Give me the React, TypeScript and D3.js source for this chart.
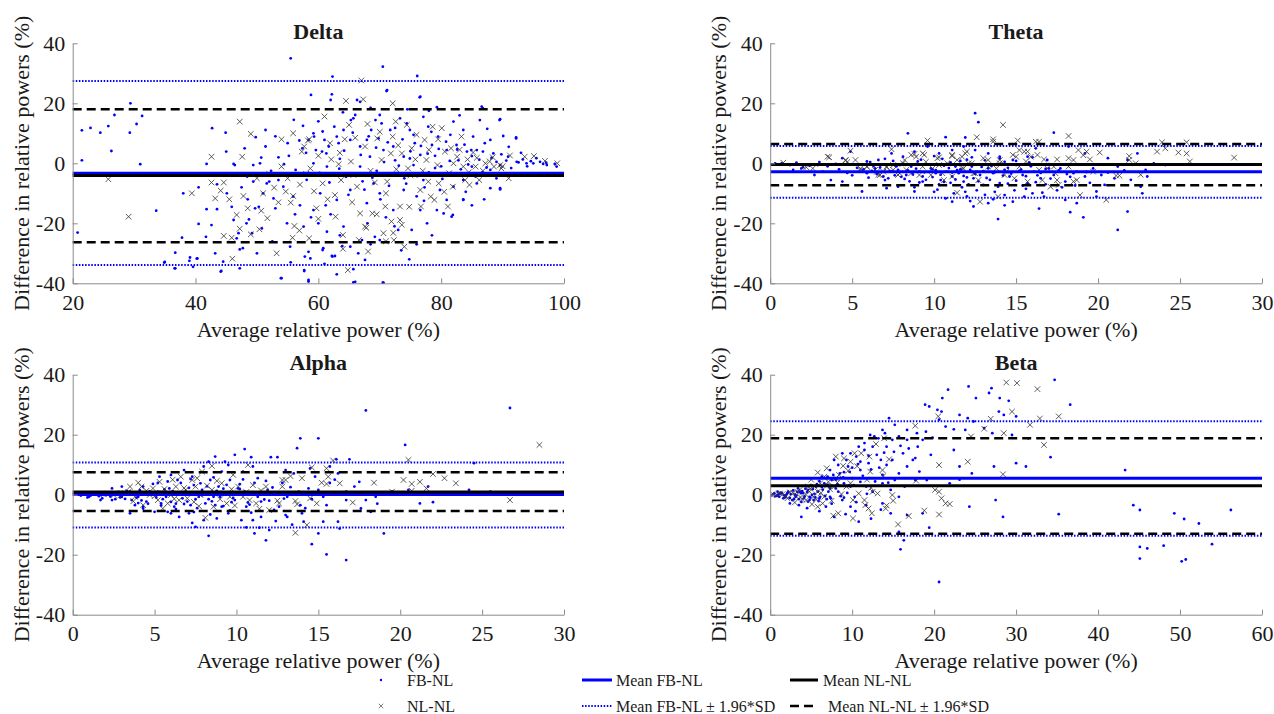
import { useEffect, useRef } from 'react';
import * as d3 from 'd3';

type Pt = [number, number];

// ---- data (x = average, y = difference, both in %) ----
const deltaFB: Pt[] = [
  [55.5, 35], [70.5, 32.2], [62.3, 28.9], [76.1, 29.1], [71.2, 24.4], [76.5, 22], [58.8, 22.8], [29.4, 20],
  [26.8, 16.1], [31.3, 15.8], [30.4, 13.1], [24.5, 10.2], [22.9, 11.8], [21.5, 11], [25.8, 12.4], [29.3, 10.2],
  [26.3, 4.1], [21.5, 1], [31, -0.3], [20.8, -23.1], [33.6, -15.8], [34.9, -33.1], [36.7, -29.8], [36.6, -35],
  [39.1, -31.4], [40.3, -31.7], [44.1, -36.1], [40.5, -20.2], [42.7, 11.7], [44.9, 10.2], [48, 5], [49.8, 8.7],
  [50.7, 1.9], [52, -6.1], [49.4, -6.1], [48.7, -18.7], [47, -23.3], [46.7, -25], [47.7, -28.3], [53.9, -38.3],
  [58.4, -39.4], [70.6, -39.8], [65.7, -39.7], [60.7, -28.9], [58.7, -31.7], [57.7, -35.6], [62.3, -31.1], [63.9, -27.6],
  [67.6, -32.2], [73, -22.2], [74.8, -32], [81.9, -17.2], [83.6, -12], [88, -8.3], [89.6, -8.7], [84.9, 4.4],
  [89.6, 14.7], [92.2, 8.6], [97.1, 0.2], [98.5, -0.2], [93.9, 0], [92.6, 0.3], [95.5, 1.7], [86.6, 18.9],
  [62.2, 23], [66.8, 20.5], [71.1, 24.1], [76.6, 22.2], [79.3, 18.7], [86.8, 18.3], [89.5, 14.4], [64.1, 11.1],
  [65.7, 15], [70.3, 13.3], [73.3, 15], [74.4, 13.3], [77.1, 15.5], [77.9, 12.2], [82, 13.9], [83.6, 11.1],
  [85.2, 8.9], [86.3, 14.4], [88, 7.8], [90.1, 9.1], [92.2, 8.3], [92.3, 0.5], [89, 0.5], [59.2, 10],
  [58.4, 7.8], [60.6, 3.9], [61.4, -1.1], [67.9, 7.8], [68.4, 2.2], [69.8, 8.3], [70.6, 4.4], [71.7, 11.1],
  [72.2, 5.6], [74.9, 11.1], [75.7, 6.7], [76.6, 2.8], [78.5, 6.1], [79.5, 8.9], [80.9, 4.4], [82.5, 6.1],
  [84.2, 3.9], [85.8, 4.4], [87.1, 6.7], [88.5, 3.3], [90.9, 2.2], [95, 0], [97.2, -0.6], [98.8, -1.1],
  [96.1, 0.5], [73.9, 2.2], [66.8, 5.6], [65.2, 7.8], [63.3, 6.7],
  [41.8, -15.3], [43.5, -15.3], [42.6, -20.6], [41.7, -24.5], [37.8, -24.8], [39, -32.5], [40.2, -31.8], [35, -32.9],
  [36.7, -35], [39.6, -34.5], [43.2, -30], [44.5, -32.8], [44.2, -35.9], [47.2, -35], [47.2, -28.7], [45.1, -10],
  [45.9, -14.5], [46.2, -18.9], [48.3, -20], [49.2, -23.3], [50.8, -21.7], [49.7, -15], [51, -10], [52.7, -11.7],
  [53.5, -5.6], [54.9, -20], [55.4, -27.8], [57.6, -21.1], [57.8, -31.1], [58.4, -29.5], [57.7, -35.9], [58.4, -38.9],
  [54, -38.3], [60.8, -28.3], [61.4, -22.8], [62.2, -30.9], [62.7, -30.9], [64.1, -21.1], [65.2, -27.8], [66, -39.5],
  [65.7, -35.3], [67.1, -25.6], [69.2, -24.5], [70, -25.6], [70.5, -39.8], [75.2, -22.2], [76.6, -15.6], [77.7, -20],
  [79.3, -15.6], [80.4, -16.7], [81.7, -17.8], [80.9, -12.2], [79.8, -8.9], [82, -7.8], [83.6, -12.2], [85.8, -6.7],
  [89.6, -8.3], [83.6, -5.6], [73.9, -8.9], [72.2, -15.6], [70, -10], [67.9, -13.3], [65.2, -8.9], [63, -12.2],
  [60.3, -10], [59.2, -15.6], [55.9, -11.1], [54.3, -7.8], [51.6, -6.7], [69, -6.7], [77.1, -5.6], [72.8, -3.3],
  [75.5, -0.6], [66.8, -1.1], [59.2, 0], [50.5, 0], [46.2, -0.2], [41.8, -0.2], [85, -1.1], [88, -2.2], [89.6, -0.6],
  [45, 3.9], [46.4, -0.6], [49.4, -0.6], [51.4, 5.6], [54.4, -0.3], [55, 6.7], [56.9, 7.6], [59.3, 8.9],
  [51.4, 11.1], [60.7, 10.6], [61.3, 3.3], [61.7, 5.6], [63, 8.9], [65.3, 14.4], [66, 16.1], [62, 21.1],
  [66.3, 21.1], [68.6, 11.1], [69.3, 14.4], [70, 16.1], [45.4, -3.9], [48.4, -4.4],
  [64.5, -4.5], [67.2, -6], [71.5, -7.5], [74, -5], [78, -3], [80, -1], [82.8, 1], [86.7, -3],
  [84, -9.5], [76, -11], [71, -18], [68, -20], [62, -17], [60, -20], [57, -14], [53, -15],
  [56.5, -4], [58, 3.5], [63.5, 1.5], [69.5, -2.5], [72.5, 1], [75, 4], [79, 2.5], [81.5, 9.5],
  [83, 16], [78, 17.5], [74.5, 18], [68.5, 18.5], [64, 17], [60, 14], [57.5, 12.5], [53, 9],
  [56, 14.5], [87.5, 11.5], [91, 5.5], [93, 3.5], [94, -1], [90.5, -3.5], [87, -12], [85, -14],
  [78.5, -24], [76, -27], [73.5, -29], [66.5, -30], [61, -33.5], [63, -37], [55.5, -33], [52.5, -26],
  [50, -30], [48.5, -12], [43.5, -7], [40.5, -8], [38, -10],
  [55.2, 2.5], [56.3, -2.2], [57.4, 5], [58.1, -5.5], [59.6, 4.4], [60.2, -3.2], [61, 7.8], [61.8, -6.4],
  [62.6, 12.2], [63.4, -1.8], [64.2, 4.2], [64.9, -10.5], [65.6, 10.2], [66.2, -4], [66.9, 2.8], [67.5, -8.8],
  [68.2, 9], [68.8, -4.8], [69.4, 5.2], [70.1, -12], [70.7, 0.4], [71.3, 7], [71.9, -3.8], [72.5, 11.8],
  [73.1, -0.8], [73.7, 8], [74.3, -6.8], [74.9, 1.6], [75.5, 9.5], [76.1, -4.3], [76.7, 5.8], [77.3, -8],
  [77.8, 3.2], [78.4, 10.5], [79, -1.6], [79.6, 4.8], [80.2, -5.2], [80.8, 7.2], [81.4, 0.8], [82, -3.5],
  [82.6, 4.6], [83.2, -2], [83.8, 6.2], [84.4, -0.4], [85, 2.4], [85.6, -4.4], [86.2, 1.2], [86.8, 3.9],
  [87.4, -1.4], [88.2, 1.8], [89, -5], [89.8, 3], [90.6, 0.9], [91.4, -1.6], [93.3, 1.3], [94.6, 0.7],
  [96.6, -0.2], [53.5, 2], [52.3, -2.5], [58.8, -18], [63.5, -24], [68.5, -27], [72.4, -21], [77.2, -12.5],
  [61.2, -14], [56.2, -17], [50.3, -14.5], [47.5, -8],
];

const deltaNL: Pt[] = [
  [25.8, -5.3], [29.1, -17.8], [47.2, 13.9], [47.6, 2.2], [42.6, 2.2], [39.4, -10], [42.6, -6.4], [44.6, -6.4],
  [43.2, -11.7], [44.1, -9.1], [47.8, -10.9], [44.6, -24.2], [45.9, -24.8], [46, -31.8], [46.7, -17.2], [47.2, -21.8],
  [49, 9.8], [50.7, -15.8], [50.4, -22], [49, -23.7], [51.7, -18.3], [53.2, -30], [52.8, -8.1], [51, -10],
  [54, -1.1], [54, 8], [54.7, -9.4], [55.5, -13.1], [55.9, 10], [55.9, -10.9], [55.8, -24.8], [56.1, -20.9],
  [56.9, -22.4], [57, -7.1], [57.3, 3.9], [57.7, 5.6], [58.3, 7.6], [58.5, 8], [58.7, -1.7], [59.3, -9.3],
  [59.7, -15], [60.7, -6.7], [61, 15.6], [61.9, 6.7], [62.1, 1.3], [62.7, -10.6], [63.3, -0.3], [62.8, -17.8],
  [63.7, -5.6], [64, -23.9], [64.3, 8], [64.5, 20.8], [64.8, -35.6], [65, 12.8], [65.3, 0.6], [65.7, -3.9],
  [66.3, -7.8], [66.6, -25.6], [66.8, -16.7], [67, 27.6], [67.3, 21.3], [67.6, 5.6], [67.6, -21.1], [68, 13.1],
  [68.1, -29.4], [68.8, -16.7], [69.2, -6.4], [69.6, 8.3], [70.3, 1.1], [70.6, -23.3], [70.9, -14.4], [71.2, -6.1],
  [71.8, 3.3], [72.1, 8.9], [72.1, 20], [71.9, -19.4], [72.3, -25.6], [72.6, 13.9], [72.7, -2], [73.6, 3.3],
  [73.3, -14.4], [73.3, -18.9], [74, -27.8], [74.4, 12.8], [74.6, -1.7], [75.2, 5], [75.8, 1.3], [76.6, -8.9],
  [76.7, -14.4], [77.3, 7.8], [77.6, 1.1], [77.9, -6.1], [78.3, -11.1], [78.6, 12.2], [78.9, -12.2], [79.4, -0.6],
  [79.6, -6.7], [80.1, 11.7], [80.6, 3.9], [81.1, -14.4], [81.3, -3.3], [81.6, 5], [81.9, -7.8], [82.6, 2.2],
  [83.3, 8.9], [83.6, -1.1], [83.9, -5.6], [84.3, 1.3], [84.6, -7.2], [85.2, 3.6], [85.6, -1.1], [86.2, -5.6],
  [87.2, 0], [87.9, 0.6], [88.6, -1.1], [89.6, -0.6], [89.8, -1.7], [91, -5], [91.2, 2.6], [93.6, 2.2],
  [95.1, 2.4], [96.9, 0.8], [98.9, 0],
  [58, -3.5], [60, 2.5], [61.5, -12], [63.5, 3.5], [65.5, -13], [66, 8.5], [68.5, -2.5], [70, 10.5],
  [71, -10], [73, 6], [75, -4], [76, 9.5], [77, -2.5], [78, 4.5], [79.5, 8], [80.5, -9.5],
  [82, 0], [83, 4.5], [84.5, -3], [85.8, 1.8], [86.8, -2.5], [88.4, 2], [90, -1], [55, -5],
  [53.5, -13], [52, -3.5], [50, -5], [48.5, -15], [45.5, -12], [64, -28.5], [67.8, -21.5], [71, -26],
  [73.6, -20.5], [72.2, -23.2], [69.5, -17], [74.8, -14.5], [58.5, -25], [60, -18.5],
];

const thetaFB: Pt[] = [
  [12.5, 16.7], [12.7, 13.7], [8.4, 10], [10.7, 8.7], [11.9, 8.6], [17.3, 10.2], [18.2, 5.6], [13.9, -18.6],
  [18.3, -16.3], [19.1, -18], [21.2, -22.2], [21.8, -16.1], [16.4, -15.1], [12.4, -14.4], [11.1, -12.8], [10.7, -11.7],
  [13.3, -13.3], [14.3, -10.6], [14.8, -12.8], [15.5, -11.1], [16.7, -11.1], [18, -12.2], [18.7, -13.3], [19.9, -9.4],
  [20.4, -7.2], [22.6, -7.8], [23, -4.4], [23.4, 0], [22.4, 3.3], [20.6, 1.7], [21.8, 1.1], [19.2, 3.3],
  [15.7, 2.2], [16.2, 5], [16.9, 1.1], [17.7, -1.7], [18.5, -3.3], [19.2, -4.4], [9.3, -6.1], [8.8, -9.4],
  [7.8, -7.8], [7.1, -8.3], [5.6, -9.4], [4.4, -6.1], [3.7, -5.6], [2.7, -3.9], [1.9, -1.7], [1.2, -0.6],
  [0.7, 0], [0.3, 0], [1.4, -2.2], [2.9, -0.6], [4.4, 1.7], [4.9, 3.9], [5.9, 0.6], [6.6, 1.1],
  [7.4, 3.3], [8.1, 2.2], [8.8, 3.9], [9.6, 5.6], [10.3, 3.3], [11.1, 4.4], [11.8, 5.6], [12.5, 4.4],
  [13.3, 3.3], [14, 2.2], [14.8, 1.1], [5.9, -3.3], [6.4, -1.7], [6.9, -4.4], [7.4, -2.8], [7.8, -2.2],
  [8.3, -3.9], [8.6, -1.1], [9.1, -2.8], [9.3, -4.4], [9.8, -1.7], [10.1, -3.3], [10.4, -5.6], [10.8, -2.8],
  [11.1, -4.4], [11.3, -1.1], [11.5, -3.3], [11.8, -6.1], [12.2, -2.2], [12.4, -5], [12.8, -3.9], [13, -7.2],
  [13.3, -1.7], [13.6, -3.3], [13.9, -7.8], [14.3, -2.2], [14.6, -4.4], [15, -0.6], [15.4, -3.9], [15.7, -6.7],
  [16.1, -2.8], [16.5, -5], [17, -1.7], [17.3, -3.9], [18, -6.1], [18.7, -2.8], [19.7, -1.7], [20.2, -3.9],
  [21.2, -1.1], [22.9, -2.2], [24.1, -0.6], [19.9, -11.1],
  [6.2, -2.5], [6.8, -0.5], [7.2, -5], [7.7, -1], [8, -4.5], [8.5, -6], [8.9, -0.3], [9.5, -5.5],
  [9.9, -2], [10.3, -7], [10.6, -0.8], [11, -6.5], [11.4, -2.3], [11.7, -8], [12, -4.7], [12.6, -9],
  [12.9, -1.2], [13.4, -5.5], [13.7, -9.5], [14.1, -0.2], [14.5, -6.8], [15.2, -2.5], [15.6, -8.5], [16.3, -4],
  [16.8, -7], [17.5, -9], [18.3, -4.5], [19.5, -6.5], [20, -0.5], [21, -5], [9.2, 1.2], [10.5, 1.5],
  [11.6, 0.8], [12.3, 2], [13.1, 1], [14.3, 0.5], [15.8, 0.3], [7.5, 0.8], [5.3, -1.5], [4.7, -3.2],
  [3.2, -2.8], [2.4, -0.8], [1, -0.4], [10, -9.5], [12, -11], [11.2, -10], [13.6, -12], [16, -10],
  [17.8, -8], [22, -5.5], [22.7, -10],
  [5.7, -2], [6, -4.8], [6.3, -0.9], [6.5, -3.6], [6.7, -1.4], [7, -5.6], [7.3, -2.6], [7.6, -4],
  [7.9, -0.6], [8.2, -5.2], [8.4, -2.4], [8.7, -3.7], [8.9, -1.8], [9.1, -6.4], [9.4, -3], [9.6, -0.4],
  [9.9, -4.6], [10.1, -2.3], [10.4, -3.8], [10.6, -6.2], [10.9, -1.6], [11.1, -3.1], [11.3, -5.4], [11.6, -2],
  [11.8, -4.2], [12.1, -7], [12.3, -1.1], [12.5, -3.5], [12.7, -6], [13, -2.6], [13.2, -4.9], [13.5, -0.9],
  [13.7, -3], [14, -6.6], [14.2, -4.1], [14.5, -1.5], [14.7, -3.4], [15, -5.8], [15.3, -2.1], [15.6, -4.3],
  [15.9, -1], [16.2, -6.3], [16.5, -3.2], [16.8, -1.9], [17.1, -5.1], [17.6, -2.4], [18.1, -3.6], [18.6, -7.4],
  [19.3, -2.9], [20.6, -3.1], [21.6, -2.4], [6.1, 0.4], [7, 1.5], [8.1, -0.2], [9, 0.6], [10, 2.4],
  [11, 0.3], [12, 1.2], [13, -0.5], [14, 1.6], [15, 0.8], [16, 2], [17, -0.3], [8.8, -8],
  [10.2, -8.8], [11.9, -9.5], [13.1, -10.5], [14.9, -9], [16.6, -9.8], [12.2, -12.6], [14.3, -14], [15.4, -7.4],
  [5, -4], [4.2, -2], [3.5, -1], [2, -1.3], [1.6, 0.2], [3, 0.4], [4, -0.2],
];

const thetaNL: Pt[] = [
  [14.2, 12.8], [18.2, 9.1], [12.6, 8.7], [13.6, 8], [15.1, 7.6], [16.2, 7.2], [9.6, 7.6], [23.9, 7],
  [25.4, 7], [23.6, 3.9], [24.1, 5], [24.9, 3.6], [25.4, 3.3], [25.6, 0.6], [28.3, 1.9], [21.9, 2.4],
  [21.9, 1.1], [20.1, 3.6], [19.5, 1.3], [19.3, 3.9], [18.8, 4.4], [19.1, 2.7], [3.6, 2], [4.9, 4.2],
  [4.6, 1.1], [4.7, 0.4], [2.2, -1.3], [0.8, 0.2], [7.4, 4.7], [8.8, 3.1], [9.4, 2.8], [10.3, 2],
  [11.1, 2.4], [11.7, 2.2], [12, 3.9], [11.4, -9.8], [12.8, -12.8], [13.9, -11.1], [20.5, -12.2], [18.9, -10.6],
  [18.7, -5.6], [17.1, -7.8], [17.4, -3.3], [17.5, -5.6], [15.7, -6.1], [14.9, -5], [21.1, -4.1], [21.3, -4.1],
  [22.6, -3.8], [22.3, 0], [17.5, 1.3], [16.7, 1.3], [15.6, 0.6], [15, 2.2], [14, 0], [13.3, 1.1],
  [13.8, -1.7], [12.3, 0], [12.5, -3.3], [11.8, -1.7], [11.1, -4.4], [10.6, -5.6], [10.3, -0.6], [9.3, -1.1],
  [9.1, -3.9], [8.3, -2.2], [7.9, -3.3], [7.1, -1.1], [6.9, -2.8], [6.4, -2.2], [5.9, -1.1], [5.5, -2.2],
  [6.6, -3.9], [7.5, -0.6], [8.1, 0], [8.6, -3.3], [9.8, -3.9], [14.3, -3.9], [15.2, -1.1], [16.4, -2.2],
  [18.2, -1.1], [19.7, -2.8], [15.7, 3.9], [18.5, -6.1],
  [3.5, 2.2], [4.6, 0.9], [5.5, -1.7], [5.9, -1.1], [6.5, -2.8], [6.7, -3.9], [7.1, -1.3], [7.5, -2.2],
  [7.8, -3.9], [8.2, 1.1], [8.6, 2.8], [8.9, 2.2], [9.3, 3.3], [9.5, 0.5], [9.9, -1.7], [10.2, 1.7],
  [10.5, -3.3], [10.8, 0], [11.1, 2.8], [11.4, 1.1], [11.7, -1.7], [11.9, 3.3], [12.1, 0], [12.4, -3.3],
  [12.7, -5.6], [13, 1.7], [13.3, -1.1], [13.6, 7.2], [14, 1.1], [14.4, -2.8], [14.8, 2.8], [15.2, 4.4],
  [15.5, 3.9], [15.9, 2.2], [16.3, 2.8], [16.4, 7.2], [16.6, -5.6], [16.9, -1.7], [17.3, -1.1], [17.6, -7.2],
  [18.2, 1.7], [18.5, 1.1], [5.2, 1.1], [2, -1.1], [2.6, -1.7],
];

const alphaFB: Pt[] = [
  [26.7, 28.9], [17.9, 28.1], [15, 18.8], [13.9, 18.8], [13.7, 15.5], [20.3, 16.6], [10.5, 15.2], [12.1, 12.5],
  [12.5, 12.5], [8.7, 12.7], [9.9, 13.3], [10.9, 12.5], [16.1, 11.8], [16.9, 11.8], [8.3, 11], [9.3, 11],
  [24.5, 10.5], [17.5, 4.3], [17.9, -1.8], [21.2, -2.9], [22, -2.5], [18.2, -5.7], [19, -12.9], [14.6, -16.5],
  [15.5, -19.9], [16.7, -21.8], [11.8, -15.2], [11.1, -12.9], [8.3, -13.7], [10.6, -10.9], [12, -11.8], [14.1, -9],
  [15.3, -9], [16.2, -9], [17.6, -4.6], [7.3, -9.4], [6.5, -7.4], [6, -6.2], [3.5, -6.2], [5, -5.7],
  [11, -8.5], [13, -6.8], [14, -6.2], [15, -12.9], [16.3, -11.3],
  [0.3, 0.2], [0.8, 0], [1.4, 0.2], [2, -0.1], [2.7, 0.2], [1.8, -1.2], [2.4, -1.8], [3, -0.7],
  [3.5, 1], [4, -0.7], [4.3, 2.7], [4.5, -2.3], [4.8, 0.5], [5.2, 3.9], [5.4, -2.9], [5.7, -0.7],
  [5.9, 2.1], [6.2, -4], [6.4, 4.9], [6.7, -1.2], [6.9, 1], [7.2, -3.5], [7.4, 3.2], [7.7, -0.7],
  [7.9, 1.6], [8.1, -2.9], [8.4, 4.9], [8.6, -0.7], [8.9, 2.7], [9.1, -4], [9.4, 0.5], [9.6, 4.9],
  [9.9, -1.8], [10.1, 2.1], [10.4, 7.7], [10.6, -4], [10.9, 0], [11.1, 3.9], [11.5, -2.3], [11.9, 1.6],
  [12.3, -5.1], [12.8, 3.9], [13.1, -0.7], [13.5, 7.1], [13.9, -3.5], [14.4, 2.1], [14.8, 6], [15.3, -0.7],
  [15.7, 3.9], [16.2, 7.1], [16.7, -1.8], [17.2, 2.7], [19.5, 1], [20.5, 1.6], [21.7, 2.7], [23, 0.5],
  [24.2, 1.6], [25.5, 1], [3.8, -3.5], [4.3, -4.6], [5.8, -5.7], [7.1, -6.2], [7.5, -10.7], [8, -8.5],
  [8.8, -7.9], [9.5, -6.2], [10.3, -8.5], [11.5, -7.4], [13.1, -7.4], [9.5, 9.9], [11, 9.4], [13, 8.2],
  [14.5, 8.8], [15.7, 9.4], [6.8, 8.2], [8, 9.4], [9.1, 7.7], [6, 6.6], [5.3, 6], [7.3, 6],
  [3, 2.7], [2.4, 2.1], [1.7, -1.8], [1, -0.7], [4.3, -4], [9, -0.7], [10.5, 1], [11.3, -0.7],
  [12.5, 0.5], [13.8, 1], [15, 1.6], [16.7, 1], [18.5, -0.7],
  [0.5, -0.3], [1.2, 0.4], [1.6, -0.5], [2.2, 0.6], [2.9, -0.9], [3.3, 1.3], [0.9, -0.9], [1.5, 0.8],
  [2.6, -1.5], [3.6, -1.8], [4.1, 1.5], [4.6, -3], [5.5, -1.5], [6.3, -3], [6.1, 1.2], [7, -2.3],
  [7.6, -4.5], [7.8, 3.8], [8.3, -1.5], [8.7, -3.5], [9.2, 2], [9.7, -2.5], [10.2, 3.5], [10.8, -3.3],
  [11.3, 5.5], [12, -2], [12.6, -4], [13.3, 2.5], [14.2, -4.5], [15.5, -3.5], [16, 5], [18.6, -3],
  [5.2, 1], [4.4, 0.2], [3.9, -1],
  [0.2, 0.1], [0.6, 0.5], [1.1, -0.3], [1.9, 0.3], [2.3, -0.6], [2.8, 0.9], [3.2, -1.4], [3.7, 0.4],
  [4.2, -1.9], [4.7, 1.1], [5.1, -0.9], [5.6, 1.8], [6, -2.4], [6.5, 0.6], [6.8, -3.1], [7.1, 2.3],
  [7.5, -1.5], [7.9, -0.2], [8.2, 2.8], [8.5, -2.2], [8.8, 1.3], [9.2, -3.8], [9.5, 0.8], [9.8, -1.1],
  [10.2, 1.9], [10.7, -2.6], [11.2, 0.5], [11.7, -1.6], [12.2, 2.4], [12.9, -1.3], [13.6, 0.3], [14.6, -1.5],
  [4.9, 3.6], [5.8, 4.4], [6.6, 3.9], [7.2, 5.2], [8.6, 5.8], [9.4, 3.3], [10.4, 5.1], [11.8, 4.6],
  [6.3, -4.8], [7.4, -5.8], [8.4, -6.6], [9.6, -5.2], [10.9, -6], [5.4, -3.6], [4, -2.8], [12.4, -8.8],
  [13.4, -10], [11.4, -11],
];

const alphaNL: Pt[] = [
  [28.5, 16.6], [26.7, -1.8], [20.5, 11.6], [20.2, 4.9], [20.7, 3.6], [21.2, 4.3], [21.6, 2.1], [22, 6.9],
  [22.7, 5.5], [23.4, 3.8], [18.4, 4], [19.5, 1], [20.7, 1.3], [17.1, -2.6], [15.9, 11.4], [15.5, 8.8],
  [15.6, 6], [16.3, 3.8], [15.2, 4], [15.5, 3.6], [14.6, 9.1], [14.9, -2.9], [14.5, -1.2], [14.3, -10.1],
  [13.6, -12.7], [13.7, -3.2], [13.6, -2.1], [14, 5.5], [13, 4.9], [13.3, 6.2], [12.5, -2], [12.6, -2.9],
  [12.8, 2.7], [12, -5.1], [11.8, 2.7], [11.2, -2.9], [11, 3.2], [10.8, -1.8], [10.7, 9.9], [10.4, -0.7],
  [10.1, 2.7], [9.6, -0.7], [9.8, 6.6], [9.4, -2.9], [9.1, 3.8], [8.5, 9.6], [8.6, -4], [8.1, -7.7],
  [7.8, -0.1], [7.5, 2.7], [7.9, 7.7], [7.3, 4.9], [7, -1.2], [6.9, 1.6], [6.5, -1.8], [6.3, 2.7],
  [6.6, 6], [6, -0.1], [5.8, -2.9], [5.5, 0.5], [5.3, 4.3], [5.2, -1.8], [4.9, 2.1], [4.7, -0.1],
  [4.3, -3.5], [4.2, 2.7], [3.5, 2.7], [3.8, -0.7], [3.2, 0.5], [2.5, -0.1], [1.9, 0.2], [5.5, -4.6],
  [8.5, 1.6], [8.9, 0.5], [12.8, 4.9],
  [2.1, 0.4], [2.9, -0.3], [3.4, 0.9], [4.5, 1.3], [5, -0.5], [5.6, 1.9], [6.2, -1.4], [6.8, 2.2],
  [7.4, -2.4], [8.2, 3], [9, -1.5], [9.7, 1.8], [10.6, 0.9], [11.5, 1.4], [6.1, 5], [7.6, 5.5],
  [8.8, 4.6], [4, 4], [3.7, -2.2], [7.7, -3.8], [9.9, -3.6], [11.4, -4.7],
];

const betaFB: Pt[] = [
  [34.7, 38.3], [36.6, 30], [24.2, 36.1], [27, 35.5], [26.7, 33.9], [21.7, 35], [21, 32.2], [25.1, 32.2],
  [28, 32.2], [29.1, 31.3], [18.9, 30], [19.4, 29.4], [20.4, 28.3], [20.9, 27.7], [23.1, 26.6], [24.1, 25.5],
  [24.8, 24.4], [27.9, 27.7], [28.5, 26.6], [30, 26.1], [20.6, 25], [21.4, 22.7], [22.4, 21.8], [23.8, 21.6],
  [26.1, 22.2], [27.1, 20.5], [29.5, 19.9], [31.5, 18.8], [34.2, 12.5], [43.3, 8.2], [30, 10.5], [31.2, 9.4],
  [27.3, 9.4], [18.6, 18.3], [17.9, 20.5], [16.7, 18.3], [15.7, 19.4], [14.9, 18.3], [14, 20.5], [13.2, 18.8],
  [12.2, 19.9], [14.2, 16], [16.2, 13.8], [17.7, 12.2], [19.6, 13.3], [22.4, 14.9], [23.1, 9.4], [24.6, 7.1],
  [21.9, 3.8], [23.1, 5], [24.3, -4], [27.5, -1.8], [28.4, -7.4], [35.2, -6.5], [44.3, -3.5], [45.1, -5.1],
  [45.1, -17.4], [45.1, -21.3], [46, -17.9], [48, -17], [49.3, -6.2], [50.5, -8.1], [50.2, -22.2], [50.7, -21.6],
  [52.3, -9.6], [53.9, -16.5], [56.2, -5.1], [20.6, -29.1], [15.9, -18.2], [16.3, -15.2], [15.7, -12.4], [19.4, -11],
  [18.6, -6.2], [14.7, -6.2], [16.7, -6.8], [13.7, -2.9], [11.7, -3.5], [10.8, -9], [9.8, -4], [7.8, -7.4],
  [6.8, -4], [3.8, -7.4], [5.3, -1.8], [2.4, -2.9],
  [0.4, 0.2], [0.9, -0.1], [1.4, 0.5], [1.9, -0.4], [2.5, 0.2], [3.1, -0.7], [3.6, 1], [4.1, -1.2],
  [4.6, 1.6], [5.1, -0.1], [5.6, 2.7], [6.1, -0.7], [6.6, 3.8], [7.1, 1], [7.5, 4.9], [8, 2.1],
  [8.5, 7.1], [9, 3.8], [9.5, 9.4], [10, 5.5], [10.5, 12.7], [11, 8.2], [11.5, 14.9], [12, 10.5],
  [12.5, 16], [13, 13.3], [13.5, 11.6], [14.2, 9.9], [14.9, 11.6], [15.7, 7.1], [16.7, 9.4], [17.4, 11.6],
  [18.2, 7.7], [19.1, 4.9], [11.7, 2.7], [13.7, 3.8], [14.7, 1.6], [15.7, -0.7], [10.3, -0.7], [8.8, -1.8],
  [7.3, -0.7], [5.8, 1], [4.6, -2.3], [3.4, 2.1], [6.3, 6], [7.3, 8.2], [8.3, 9.9], [9.3, 11.6],
  [9.8, 13.8], [10.8, 16], [11.5, 17.2], [8.8, 13.8], [7.8, 11.6], [11, 4.3], [7.3, 2.1], [8.3, 1],
  [9.8, 2.7], [12.5, 1], [13.7, 6.6], [15.2, 4.9], [16.4, 2.7], [17.7, 4.9], [12.7, 19.4], [13.7, 21.6],
  [15.2, 23.3], [14.5, 25.5], [16.7, 21.6], [0.9, 1], [1.6, -1.2], [2.9, -1.5], [3.8, 0.5], [4.8, -0.7],
  [1.1, -0.7],
  [0.6, -0.5], [1.2, 0.4], [1.8, -0.9], [2.2, 1], [2.7, -1.8], [3.3, 0.9], [3.8, -2.4], [4.3, 2],
  [4.9, -1], [5.4, 0.3], [5.9, -2.1], [6.4, 1.7], [6.9, -1.5], [2, 0.1], [3, 0], [4, 0.6],
  [1, 0], [0.2, -0.2], [5, 3], [6, 4.5], [7, 6], [8, 5], [9, 7.5], [10, 9],
  [11, 11], [12, 13], [9, -1], [10.5, -2.5],
  [0.5, 0.4], [0.8, -0.4], [1.3, 0.7], [1.7, -0.2], [2.1, 0.6], [2.4, -1.1], [2.8, 1.4], [3.2, -0.3],
  [3.5, -1.5], [3.9, 1.2], [4.2, -0.6], [4.5, 0.9], [4.8, -1.8], [5.2, 1.9], [5.5, -0.9], [5.7, 3.5],
  [6, -1.3], [6.3, 2.6], [6.7, -0.4], [7, 3.3], [7.4, -1.2], [7.7, 6.6], [8.2, 3.4], [8.6, -0.5],
  [8.9, 5.8], [9.4, 0.6], [9.7, 7.6], [10.2, 3.2], [10.7, 10.2], [11.3, 6.3], [11.8, 0.3], [12.3, 8.4],
  [12.8, 4.4], [13.3, 9], [13.9, 14], [14.4, 4], [15.1, 14.3], [15.9, 16.3], [16.9, 15.4], [18, 16],
  [19, 21], [19.8, 19], [3.5, -3.5], [4.5, -4.5], [6, -5.5], [7.5, -3], [9.2, -6.5], [10.4, -5.5],
  [12.3, -8], [13.5, -5],
];

const betaNL: Pt[] = [
  [28.8, 37.4], [30.1, 37.2], [32.6, 35.2], [35.2, 26.1], [32.9, 25.4], [31.7, 23.3], [29.5, 27.7], [26.9, 25.3],
  [26.1, 22], [24.5, 19.4], [28.5, 20.5], [33.4, 16.6], [24.1, 11], [28.4, 6.8], [20.5, 26.1], [20.6, 9.9],
  [17.7, 23], [17.8, 4.7], [20.1, 1.6], [20.6, 1], [20.9, -1.2], [21.4, -2.9], [21.9, -3.1], [20.6, -6.6],
  [18.8, -5.3], [16.9, -7.1], [15.6, -9.9], [15, -2], [14.9, -0.1], [14.2, -3.6], [14.1, -4.6], [13.9, 18.8],
  [14.5, 11.8], [13.7, 8.2], [13.8, 6.2], [12.9, 16.9], [12.2, 7.7], [12.1, 12.7], [12.3, 2.3], [12.5, 1],
  [13.1, 0.4], [12, -4.6], [12.4, -6.2], [11.5, -1.8], [11.6, -3.5], [10.8, 0.4], [11.1, 13.8], [10.3, 13.8],
  [10.1, -1.8], [10.1, -7.9], [9.8, 11], [9, 12.1], [8.9, 9.6], [8.4, 6.6], [8, 12.7], [8, 5.5],
  [8.3, -6.2], [7.7, -7], [7.3, 1.8], [6.9, 8.8], [6.6, 6], [6.4, -2.9], [5.8, 7.4], [6.1, 3.8],
  [5.4, 2.7], [5.3, -0.7], [4.8, 1], [5.1, -3.2], [4.6, 2.7], [4.3, 0.2], [3.9, -1.6], [3.6, 1.6],
  [3.1, -0.4], [2.8, 0.5], [2.1, -1.2], [1.5, 0.2], [0.8, -0.1], [0.3, 0.2], [6.6, -0.7], [7.1, 4.3],
  [9.3, 2.7], [8.7, 0.2], [7.8, 2.7], [9.8, 3.8], [5.8, 1],
  [1.2, 0.4], [1.9, -0.5], [2.4, 0.8], [3.3, 1], [3.7, -0.8], [4.4, -1.8], [4.9, 2], [5.6, -1.6],
  [6.2, 0.6], [6.9, 3], [7.5, -2], [8.2, 4], [9.5, 8], [10.6, 9.5], [11.8, 5], [3, -2.6],
  [5, 5], [5.8, -4],
];

const panelTitles = ['Delta', 'Theta', 'Alpha', 'Beta'];
const xDomains: [number, number][] = [[20, 100], [0, 30], [0, 30], [0, 60]];
const xTickValues = [
  [20, 40, 60, 80, 100],
  [0, 5, 10, 15, 20, 25, 30],
  [0, 5, 10, 15, 20, 25, 30],
  [0, 10, 20, 30, 40, 50, 60],
];
const yTickValues = [-40, -20, 0, 20, 40];

// mean difference and limits of agreement per band
const meanFB = [-3.3, -2.8, 0.1, 5.5];
const limitsFB = [[-33.9, 27.4], [-11.5, 5.8], [-10.9, 10.7], [-13.7, 24.5]];
const meanNL = [-4.1, -0.4, 0.9, 3.0];
const limitsNL = [[-26.3, 18.0], [-7.3, 6.4], [-5.4, 7.5], [-13.0, 18.8]];

const fbSeries = [deltaFB, thetaFB, alphaFB, betaFB];
const nlSeries = [deltaNL, thetaNL, alphaNL, betaNL];

const FONT = '"Liberation Serif", "Times New Roman", Times, serif';
const BLUE = '#0000ff';
const AXIS = '#8a8a8a';
const TEXT = '#1a1a1a';
const CROSS = 'M-2.8,-2.8L2.8,2.8M-2.8,2.8L2.8,-2.8';

const frames = [
  { left: 72.7, right: 564, top: 43.3, bottom: 283.3 },
  { left: 770.2, right: 1262, top: 43.3, bottom: 283.3 },
  { left: 72.7, right: 564, top: 374.7, bottom: 614.7 },
  { left: 770.2, right: 1262, top: 374.7, bottom: 614.7 },
];

export default function App() {
  const svgRef = useRef<SVGSVGElement>(null);

  useEffect(() => {
    const svg = d3.select(svgRef.current);
    svg.selectAll('*').remove();

    panelTitles.forEach((title, i) => {
      const f = frames[i];
      const x = d3.scaleLinear().domain(xDomains[i]).range([f.left, f.right]);
      const y = d3.scaleLinear().domain([-40, 40]).range([f.bottom, f.top]);
      const g = svg.append('g');

      // FB-NL dots
      g.append('g')
        .selectAll('circle')
        .data(fbSeries[i])
        .enter()
        .append('circle')
        .attr('cx', d => x(d[0]))
        .attr('cy', d => y(d[1]))
        .attr('r', 1.4)
        .attr('fill', BLUE);

      // NL-NL crosses
      g.append('g')
        .selectAll('path')
        .data(nlSeries[i])
        .enter()
        .append('path')
        .attr('d', CROSS)
        .attr('transform', d => `translate(${x(d[0])},${y(d[1])})`)
        .attr('fill', 'none')
        .attr('stroke', '#333')
        .attr('stroke-width', 0.8);

      const hline = (v: number, color: string, width: number, dash?: string) => {
        const l = g.append('line')
          .attr('x1', f.left)
          .attr('x2', f.right)
          .attr('y1', y(v))
          .attr('y2', y(v))
          .attr('stroke', color)
          .attr('stroke-width', width);
        if (dash) l.attr('stroke-dasharray', dash);
      };

      hline(meanFB[i], BLUE, 3);
      hline(meanNL[i], '#000', 3);
      limitsFB[i].forEach(v => hline(v, BLUE, 2, '1.5,1.6'));
      limitsNL[i].forEach(v => hline(v, '#000', 2.5, '9,5'));

      // axes (inward ticks, box off)
      const xAxis = d3.axisBottom(x)
        .tickValues(xTickValues[i])
        .tickSize(-5)
        .tickSizeOuter(0)
        .tickPadding(11)
        .tickFormat(d => String(d));
      const ax = g.append('g')
        .attr('transform', `translate(0,${f.bottom})`)
        .call(xAxis)
        .attr('font-family', FONT)
        .attr('font-size', 22);
      ax.select('.domain').attr('stroke', AXIS);
      ax.selectAll('.tick line').attr('stroke', AXIS);
      ax.selectAll('.tick text').attr('fill', TEXT);

      const yAxis = d3.axisLeft(y)
        .tickValues(yTickValues)
        .tickSize(-5)
        .tickSizeOuter(0)
        .tickPadding(7.5)
        .tickFormat(d => String(d));
      const ay = g.append('g')
        .attr('transform', `translate(${f.left},0)`)
        .call(yAxis)
        .attr('font-family', FONT)
        .attr('font-size', 22);
      ay.select('.domain').attr('stroke', AXIS);
      ay.selectAll('.tick line').attr('stroke', AXIS);
      ay.selectAll('.tick text').attr('fill', TEXT);

      const cx = (f.left + f.right) / 2;
      const cy = (f.top + f.bottom) / 2;

      g.append('text')
        .attr('x', cx)
        .attr('y', f.top - 4.3)
        .attr('text-anchor', 'middle')
        .attr('font-family', FONT)
        .attr('font-weight', 'bold')
        .attr('font-size', 22)
        .attr('fill', TEXT)
        .text(title);

      g.append('text')
        .attr('x', cx)
        .attr('y', f.bottom + 53.5)
        .attr('text-anchor', 'middle')
        .attr('font-family', FONT)
        .attr('font-size', 22)
        .attr('fill', TEXT)
        .text('Average relative power (%)');

      g.append('text')
        .attr('transform', `translate(${f.left - 44},${cy}) rotate(-90)`)
        .attr('text-anchor', 'middle')
        .attr('font-family', FONT)
        .attr('font-size', 22)
        .attr('fill', TEXT)
        .text('Difference in relative powers (%)');
    });

    // legend
    const lg = svg.append('g')
      .attr('font-family', FONT)
      .attr('font-size', 16)
      .attr('fill', TEXT);
    const row1 = 680;
    const row2 = 706;

    lg.append('circle').attr('cx', 381).attr('cy', row1).attr('r', 1.2).attr('fill', BLUE);
    lg.append('text').attr('x', 407).attr('y', row1 + 5.5).text('FB-NL');
    lg.append('path').attr('d', CROSS).attr('transform', `translate(381,${row2}) scale(0.8)`)
      .attr('fill', 'none').attr('stroke', '#333').attr('stroke-width', 0.8);
    lg.append('text').attr('x', 407).attr('y', row2 + 5.5).text('NL-NL');

    const legLine = (x1: number, x2: number, yy: number, color: string, w: number, dash?: string) => {
      const l = lg.append('line').attr('x1', x1).attr('x2', x2).attr('y1', yy).attr('y2', yy)
        .attr('stroke', color).attr('stroke-width', w);
      if (dash) l.attr('stroke-dasharray', dash);
    };
    legLine(582, 612, row1, BLUE, 3);
    lg.append('text').attr('x', 616).attr('y', row1 + 5.5).text('Mean FB-NL');
    legLine(582, 612, row2, BLUE, 2, '1.5,1.6');
    lg.append('text').attr('x', 616).attr('y', row2 + 5.5).text('Mean FB-NL \u00b1 1.96*SD');

    legLine(790, 818, row1, '#000', 3);
    lg.append('text').attr('x', 823).attr('y', row1 + 5.5).text('Mean NL-NL');
    legLine(790, 818, row2, '#000', 2.5, '9,5');
    lg.append('text').attr('x', 828).attr('y', row2 + 5.5).text('Mean NL-NL \u00b1 1.96*SD');
  }, []);

  return (
    <svg
      ref={svgRef}
      width={1274}
      height={714}
      style={{ position: 'absolute', left: 0, top: 0, background: '#fff' }}
    />
  );
}
